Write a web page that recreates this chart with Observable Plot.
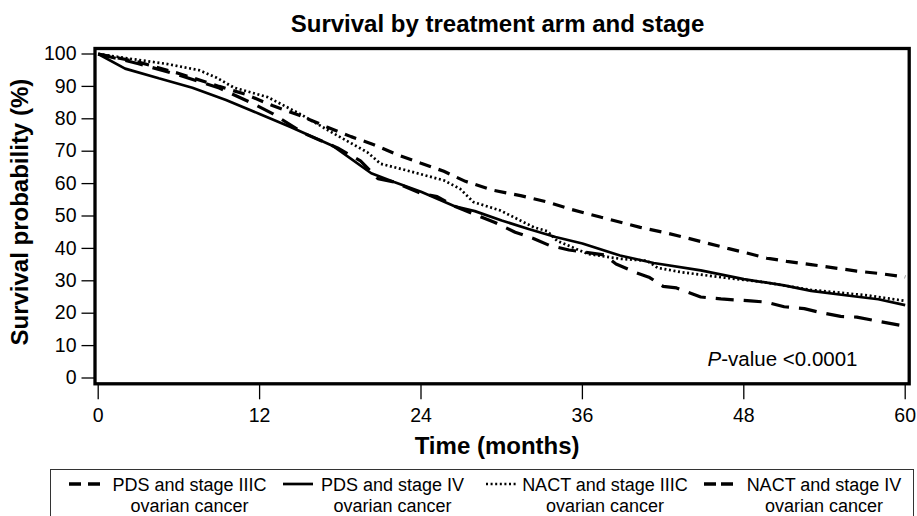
<!DOCTYPE html>
<html>
<head>
<meta charset="utf-8">
<script src="https://cdn.jsdelivr.net/npm/d3@7"></script>
<script src="https://cdn.jsdelivr.net/npm/@observablehq/plot@0.6"></script>
<style>
  body { margin: 0; background: #fff; font-family: "Liberation Sans", Arial, sans-serif; color: #000; }
  #wrap { position: relative; width: 917px; height: 516px; overflow: hidden; background: #fff; }
  #title { height: 40px; box-sizing: border-box; padding-top: 12px; padding-left: 78px; text-align: center;
           font-weight: bold; font-size: 24px; line-height: 1; white-space: nowrap; }
  #chart svg { display: block; }
  .leg-box { position: absolute; left: 50px; top: 469px; width: 864px; height: 60px; border: 1.3px solid #333; box-sizing: border-box; }
  .leg-text { position: absolute; top: 474.7px; width: 240px; text-align: center; font-size: 18px; line-height: 21.5px; white-space: nowrap; }
  .leg-key { position: absolute; top: 478px; overflow: visible; }
</style>
</head>
<body>
<div id="wrap">
  <div id="title">Survival by treatment arm and stage</div>
  <div id="chart"></div>
  <div id="legend"></div>
</div>
<script>
// ---- Data ----
const seriesNames = [
  "PDS and stage IIIC ovarian cancer",
  "PDS and stage IV ovarian cancer",
  "NACT and stage IIIC ovarian cancer",
  "NACT and stage IV ovarian cancer"
];
const xTicks = [0, 12, 24, 36, 48, 60];
const yTicks = [0, 10, 20, 30, 40, 50, 60, 70, 80, 90, 100];
const xLabel = "Time (months)";
const yLabel = "Survival probability (%)";
const pValueText = "P-value <0.0001";

const pdsIIIC_month = [0, 3, 6, 9, 11, 13, 15, 17, 18.8, 20.5, 22.2, 24, 25.7, 27.3, 29.3, 31.4, 33.3, 35.2, 37.4, 40.3, 42, 43.5, 45.3, 46.8, 48.3, 49.7, 51.2, 53, 54.7, 56.4, 58.2, 60];
const pdsIIIC_surv  = [100, 97.5, 94, 90, 87.5, 84, 81, 77.5, 74.5, 72, 69, 66.3, 63.8, 60.7, 58, 56.3, 54.4, 52, 49.6, 46.5, 45, 43.5, 41.6, 40, 38.5, 37, 36, 35, 34, 33, 32.2, 31.2];

const pdsIV_month = [0, 2, 4.5, 7, 9.5, 12, 14.3, 17.5, 20.3, 22, 24, 26.5, 28, 30, 32, 34, 36, 38.8, 41.3, 44.8, 48, 51, 53, 56, 58, 60];
const pdsIV_surv  = [100, 95.5, 92.5, 89.6, 85.8, 81.5, 77.5, 71.5, 63.2, 60.5, 57.5, 53, 51.5, 48.6, 46, 43.5, 41.5, 37.8, 35.5, 33.2, 30.5, 28.6, 26.9, 25.3, 24.3, 22.5];

const nactIIIC_month = [0, 2.6, 5, 7.5, 8.8, 10.1, 12.6, 15, 17.5, 20, 21, 23, 25.7, 26.9, 27.9, 29.9, 32.4, 33.4, 34.1, 36.4, 38.8, 40.8, 41.6, 43.3, 46.3, 49.5, 53, 57.2, 60];
const nactIIIC_surv  = [100, 98.4, 97, 95, 92.7, 89.6, 86.7, 81.5, 75.5, 69.7, 66.1, 64, 61, 58.4, 54.3, 51.7, 46.5, 45.3, 42.4, 38.3, 36.8, 36.2, 34, 32.7, 31.1, 29.6, 27.2, 25.5, 23.8];

const nactIV_month = [0, 3, 6, 9, 11.6, 13, 15.3, 17.8, 19.5, 20.8, 22, 24, 25.2, 26.5, 28, 29.5, 31, 32.4, 33.5, 35, 37.6, 38.5, 40, 41, 42, 43, 44.8, 46.3, 48.5, 49.7, 51, 52.5, 53.7, 55.2, 56.4, 58, 60];
const nactIV_surv  = [100, 97, 93.5, 89.5, 84.5, 81.5, 75.5, 71, 67, 61.5, 60.5, 57, 56, 53, 50.5, 48, 45, 43, 41, 39.5, 38, 35.2, 32.5, 31, 28.3, 27.8, 25, 24.4, 23.8, 23.4, 22, 21.4, 20.2, 19, 18.8, 17.5, 16];

// ---- Build tables ----
const toRows = (ms, ss, name) => ms.map((m, i) => ({month: m, surv: ss[i], series: name}));
const pdsIIIC = toRows(pdsIIIC_month, pdsIIIC_surv, seriesNames[0]);
const pdsIV = toRows(pdsIV_month, pdsIV_surv, seriesNames[1]);
const nactIIIC = toRows(nactIIIC_month, nactIIIC_surv, seriesNames[2]);
const nactIV = toRows(nactIV_month, nactIV_surv, seriesNames[3]);

const styles = [
  {strokeWidth: 3.2, strokeDasharray: "12,8"},
  {strokeWidth: 2.7, strokeDasharray: null},
  {strokeWidth: 2.7, strokeDasharray: "2,2.6"},
  {strokeWidth: 3.2, strokeDasharray: "18,10"}
];
const tables = [pdsIIIC, pdsIV, nactIIIC, nactIV];

const lineMarks = tables.map((t, i) => Plot.line(t, {
  x: "month", y: "surv", stroke: "black",
  strokeWidth: styles[i].strokeWidth,
  ...(styles[i].strokeDasharray ? {strokeDasharray: styles[i].strokeDasharray} : {}),
  strokeLinejoin: "miter", strokeLinecap: "butt"
}));

const chart = Plot.plot({
  width: 917,
  height: 429,
  marginTop: 8,
  marginLeft: 94.5,
  marginRight: 8.3,
  marginBottom: 85.7,
  x: {domain: [0, 60], insetLeft: 3.2, insetRight: 4},
  y: {domain: [0, 100], insetTop: 5.5, insetBottom: 5.8},
  style: {fontFamily: "'Liberation Sans', Arial, sans-serif", fontSize: "19.5px", color: "black", background: "white"},
  marks: [
    ...lineMarks,
    Plot.frame({stroke: "black", strokeWidth: 3.3}),
    Plot.axisX({ticks: xTicks, tickSize: 16, tickPadding: 8.4, strokeWidth: 1.3,
                label: xLabel, labelAnchor: "center", labelOffset: 70, labelArrow: "none"}),
    Plot.axisY({ticks: yTicks, tickSize: 13, tickPadding: 5.5, strokeWidth: 1.3,
                label: yLabel, labelAnchor: "center", labelOffset: 84, labelArrow: "none"}),
    Plot.text([pValueText], {frameAnchor: "bottom-right", textAnchor: "end", lineAnchor: "bottom",
                             dx: -51.7, dy: -18.3, fontSize: 20.5, fill: "black"})
  ]
});
document.getElementById("chart").appendChild(chart);

// Bold axis titles, nudged to match the reference placement
function nudge(sel, dx, dy) {
  sel.each(function () {
    const prev = this.getAttribute("transform") || "";
    this.setAttribute("transform", `translate(${dx},${dy}) ${prev}`.trim());
  });
}
const xl = d3.select(chart).selectAll('g[aria-label="x-axis label"]').attr("font-weight", "bold").attr("font-size", "24px");
const yl = d3.select(chart).selectAll('g[aria-label="y-axis label"]').attr("font-weight", "bold").attr("font-size", "24px");
nudge(xl, -5, 0);
nudge(yl, 0, -4);

// Italic P in the p-value annotation
d3.select(chart).selectAll("text").filter(function () { return this.textContent === pValueText; })
  .each(function () {
    const t = d3.select(this);
    t.text(null);
    t.append("tspan").attr("font-style", "italic").text(pValueText.slice(0, 1));
    t.append("tspan").text(pValueText.slice(1));
  });

// ---- Legend ----
const legendLines = [
  ["PDS and stage IIIC", "ovarian cancer"],
  ["PDS and stage IV", "ovarian cancer"],
  ["NACT and stage IIIC", "ovarian cancer"],
  ["NACT and stage IV", "ovarian cancer"]
];
const legendKeyX = [[69, 100], [283, 313], [486, 518], [704, 734]];
const legendKeyDash = ["12,7", null, "2,2.6", "12,5"];
const legendKeyWidth = [3.3, 2.7, 2.6, 3.3];
const legendTextCenter = [189.5, 392.5, 605, 824];

const leg = document.getElementById("legend");
const box = document.createElement("div");
box.className = "leg-box";
leg.appendChild(box);
legendLines.forEach((lines, i) => {
  const [x0, x1] = legendKeyX[i];
  const svg = d3.create("svg").attr("class", "leg-key")
    .attr("width", x1 - x0).attr("height", 12)
    .style("left", x0 + "px");
  svg.append("line").attr("x1", 0).attr("x2", x1 - x0).attr("y1", 6).attr("y2", 6)
    .attr("stroke", "black").attr("stroke-width", legendKeyWidth[i])
    .attr("stroke-dasharray", legendKeyDash[i]);
  leg.appendChild(svg.node());
  const div = document.createElement("div");
  div.className = "leg-text";
  div.style.left = (legendTextCenter[i] - 120) + "px";
  div.innerHTML = lines.map(s => `<div>${s}</div>`).join("");
  leg.appendChild(div);
});
</script>
</body>
</html>
